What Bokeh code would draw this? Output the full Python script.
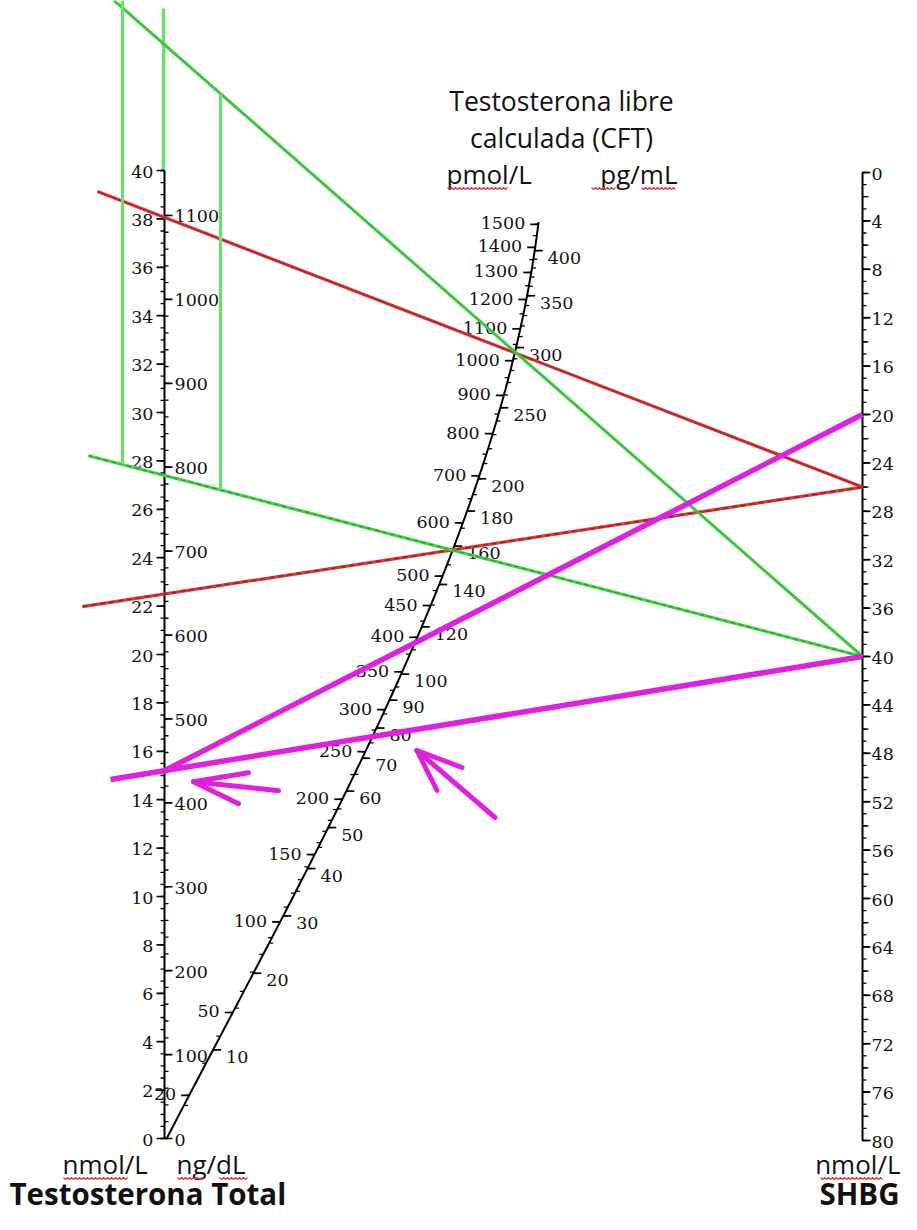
import numpy as np
from bokeh.plotting import figure
from bokeh.models import Range1d
from bokeh.core.properties import value
from bokeh.embed import file_html
from bokeh.resources import INLINE

# ---------------- data (scale values and reading lines) ----------------
t_nmol_labels = list(range(0, 41, 2))            # Testosterona total, nmol/L
t_ngdl_labels = list(range(0, 1101, 100))        # Testosterona total, ng/dL
shbg_labels = list(range(0, 81, 4))              # SHBG nmol/L
cft_pmol_labels = [20, 50, 100, 150, 200, 250, 300, 350, 400, 450, 500,
                   600, 700, 800, 900, 1000, 1100, 1200, 1300, 1400, 1500]
cft_pgml_labels = [10, 20, 30, 40, 50, 60, 70, 80, 90, 100, 120, 140, 160,
                   180, 200, 250, 300, 350, 400]

# reading lines: total T (nmol/L) -> SHBG (nmol/L)
red_t = [38.06, 22.5]
red_shbg = [26, 26]
green_t = [45.2, 27.4]
green_shbg = [40, 40]
magenta_t = [15.2, 15.2]
magenta_shbg = [20, 40]

# ---------------- layout / scales ----------------
W, H = 901, 1214
T_X, T_Y0, T_PX = 164.0, 1138.0, 24.2
S_X, S_Y0, S_PX = 862.0, 172.0, 12.1
NG_PER_NMOL = 28.84
PG_TO_PMOL = 3.467

def t_y(t):
    return T_Y0 - np.asarray(t, dtype=float) * T_PX

def s_y(s):
    return S_Y0 + np.asarray(s, dtype=float) * S_PX

# curved CFT scale (calibration of the nomogram's curved axis)
_cal_y = np.array([1083, 1018, 935, 862, 800, 750, 703, 663, 630, 602, 573,
                   523, 478, 433, 398, 363, 333, 302, 275, 245, 217], float)
_cy_coef = np.polyfit(np.sqrt(np.array(cft_pmol_labels, float)), _cal_y, 3)
_path_y = np.array([1112, 1022, 935, 867, 800, 727, 647, 553, 432, 357, 223], float)
_path_x = np.array([180, 225, 275, 307, 342, 377, 410, 450, 493, 515, 537], float)
_cx_coef = np.polyfit(_path_y, _path_x, 3)

def c_y(v):
    return np.polyval(_cy_coef, np.sqrt(np.asarray(v, dtype=float)))

def c_x_of_y(y):
    return np.polyval(_cx_coef, np.asarray(y, dtype=float))

p = figure(width=W, height=H, x_range=Range1d(0, W), y_range=Range1d(H, 0),
           x_axis_type=None, y_axis_type=None, toolbar_location=None,
           output_backend="svg", min_border=0)
p.outline_line_color = None
p.background_fill_color = "white"
p.border_fill_color = "white"

SERIF = value("DejaVu Serif")
SANS = value("Open Sans")
TICK_FS = value("17.5px")
LBL = "#111111"

def ticks(x0, y, length, width=1.3):
    y = np.atleast_1d(y)
    x0 = np.broadcast_to(np.asarray(x0, float), y.shape)
    p.segment(x0=x0, y0=y, x1=x0 + length, y1=y, line_color="black", line_width=width)

# ---------------- total testosterone axis ----------------
p.line(x=[T_X - 1, T_X - 1], y=[8, float(t_y(40))], line_color="#6fdc6f", line_width=3.5)
p.segment(x0=[T_X], y0=[t_y(0)], x1=[T_X], y1=[t_y(40)], line_color="black", line_width=2)
ticks(T_X, t_y(np.arange(0, 40.01, 0.5)), -4)
ticks(T_X, t_y(t_nmol_labels), -8, 1.7)
ticks(T_X, t_y(np.arange(0, 1101, 20) / NG_PER_NMOL), 4)
ticks(T_X, t_y(np.array(t_ngdl_labels) / NG_PER_NMOL), 8, 1.7)
p.text(x=[T_X - 11] * len(t_nmol_labels), y=t_y(t_nmol_labels) + 1,
       text=[str(v) for v in t_nmol_labels], text_font=SERIF, text_font_size=TICK_FS,
       text_align="right", text_baseline="middle", text_color=LBL)
p.text(x=[T_X + 10] * len(t_ngdl_labels),
       y=t_y(np.array(t_ngdl_labels) / NG_PER_NMOL) + 1,
       text=[str(v) for v in t_ngdl_labels], text_font=SERIF, text_font_size=TICK_FS,
       text_align="left", text_baseline="middle", text_color=LBL)

# ---------------- SHBG axis ----------------
p.segment(x0=[S_X], y0=[s_y(0)], x1=[S_X], y1=[s_y(80)], line_color="black", line_width=2)
ticks(S_X, s_y(np.arange(0, 81, 1)), 4)
ticks(S_X, s_y(np.arange(0, 81, 2)), 6)
ticks(S_X, s_y(shbg_labels), 8, 1.7)
p.text(x=[S_X + 9] * len(shbg_labels), y=s_y(shbg_labels) + 1,
       text=[str(v) for v in shbg_labels], text_font=SERIF, text_font_size=TICK_FS,
       text_align="left", text_baseline="middle", text_color=LBL)

# ---------------- CFT curved axis ----------------
v_line = np.linspace(10, 1510, 400)
yl = c_y(v_line)
p.line(x=c_x_of_y(yl), y=yl, line_color="black", line_width=2)
pm_minor = np.concatenate([np.arange(10, 200, 10), np.arange(200, 500, 25), np.arange(500, 1501, 50)])
ym = c_y(pm_minor)
ticks(c_x_of_y(ym), ym, -4)
yl_lab = c_y(cft_pmol_labels)
ticks(c_x_of_y(yl_lab), yl_lab, -8, 1.7)
pg_minor = np.concatenate([np.arange(5, 100, 5), np.arange(100, 401, 10)])
yg = c_y(pg_minor * PG_TO_PMOL)
ticks(c_x_of_y(yg), yg, 4)
yg_lab = c_y(np.array(cft_pgml_labels) * PG_TO_PMOL)
ticks(c_x_of_y(yg_lab), yg_lab, 8, 1.7)
p.text(x=c_x_of_y(yl_lab) - 13, y=yl_lab - 1,
       text=[str(v) for v in cft_pmol_labels], text_font=SERIF, text_font_size=TICK_FS,
       text_align="right", text_baseline="middle", text_color=LBL)
p.text(x=c_x_of_y(yg_lab) + 13, y=yg_lab + 7,
       text=[str(v) for v in cft_pgml_labels], text_font=SERIF, text_font_size=TICK_FS,
       text_align="left", text_baseline="middle", text_color=LBL)

# ---------------- titles ----------------
def txt(x, y, s, size, align="left", bold=False):
    p.text(x=[x], y=[y], text=[s], text_font=SANS, text_font_size=value(size),
           text_align=align, text_baseline="middle", text_color="#111111",
           text_font_style="bold" if bold else "normal")

txt(561, 100, "Testosterona libre", "26.5px", "center")
txt(561, 137, "calculada (CFT)", "26.5px", "center")
txt(446, 173, "pmol/L", "26px", "left")
txt(677, 173, "pg/mL", "26px", "right")
txt(62, 1163, "nmol/L", "26px", "left")
txt(176, 1163, "ng/dL", "26px", "left")
txt(900, 1163, "nmol/L", "26px", "right")
txt(9, 1193, "Testosterona Total", "29.5px", "left", bold=True)
txt(899, 1193, "SHBG", "29.5px", "right", bold=True)

def squiggle(x0, x1, y):
    xs = np.arange(x0, x1 + 0.1, 2.0)
    ys = y + np.where(np.arange(len(xs)) % 2 == 0, -1.2, 1.2)
    return list(xs), list(ys)

sq = [(447, 507, 188), (591, 616, 188), (641, 676, 188),
      (63, 128, 1178), (177, 204, 1178), (219, 248, 1178), (820, 882, 1178)]
xs_sq, ys_sq = zip(*[squiggle(*s) for s in sq])
p.multi_line(xs=list(xs_sq), ys=list(ys_sq), line_color="#e03030", line_width=1.2)

# ---------------- reading lines ----------------
def line_pts(t, s):
    y1, y2 = float(t_y(t)), float(s_y(s))
    slope = (y2 - y1) / (S_X - T_X)
    return y1, y2, slope

# red
for t, s, xl, dashed in zip(red_t, red_shbg, [97, 82], [False, True]):
    y1, y2, m = line_pts(t, s)
    yl0 = y1 + (xl - T_X) * m
    p.line(x=[xl, S_X], y=[yl0, y2], line_color="#d93a3a", line_width=3.2)
    if dashed:
        p.line(x=[xl, S_X], y=[yl0, y2], line_color="#9e1f1f", line_width=1.5, line_dash="5 4")
    else:
        p.line(x=[xl, S_X], y=[yl0, y2], line_color="#b02525", line_width=1.2)

# green
yd1, yd2, md = line_pts(green_t[0], green_shbg[0])
x_top = T_X + (0 - yd1) / md
p.line(x=[x_top, S_X], y=[0, yd2], line_color="#3fc63f", line_width=3)
yg1, yg2, mg = line_pts(green_t[1], green_shbg[1])
p.line(x=[88, S_X], y=[yg1 + (88 - T_X) * mg, yg2], line_color="#45cf45", line_width=3.2)
p.line(x=[88, S_X], y=[yg1 + (88 - T_X) * mg, yg2], line_color="#2e9e2e", line_width=1.3, line_dash="4 4")
for xv, top in [(122, 0), (220, yd1 + (220 - T_X) * md)]:
    p.line(x=[xv, xv], y=[top, yg1 + (xv - T_X) * mg], line_color="#6fdc6f", line_width=3.2)

# magenta
ym1, ym2, mm = line_pts(magenta_t[0], magenta_shbg[0])
p.line(x=[T_X, S_X], y=[ym1, ym2], line_color="#e020e0", line_width=5.5)
yn1, yn2, mn = line_pts(magenta_t[1], magenta_shbg[1])
p.line(x=[110, S_X], y=[yn1 + (110 - T_X) * mn, yn2], line_color="#e020e0", line_width=5.5)

# hand-drawn arrows, anchored to the magenta reading points
ax, ay = T_X + 29, ym1 + 11
p.multi_line(xs=[[ax, ax + 55], [ax, ax + 45], [ax, ax + 85]],
             ys=[[ay, ay - 9], [ay, ay + 22], [ay, ay + 9]],
             line_color="#e020e0", line_width=5, line_cap="round")
bx = c_x_of_y(735) + 44
by = 750.0
p.multi_line(xs=[[bx, bx + 78], [bx, bx + 45], [bx, bx + 20]],
             ys=[[by, by + 67], [by, by + 17], [by, by + 40]],
             line_color="#e020e0", line_width=5, line_cap="round")

open("out.html", "w").write(file_html(p, INLINE))
